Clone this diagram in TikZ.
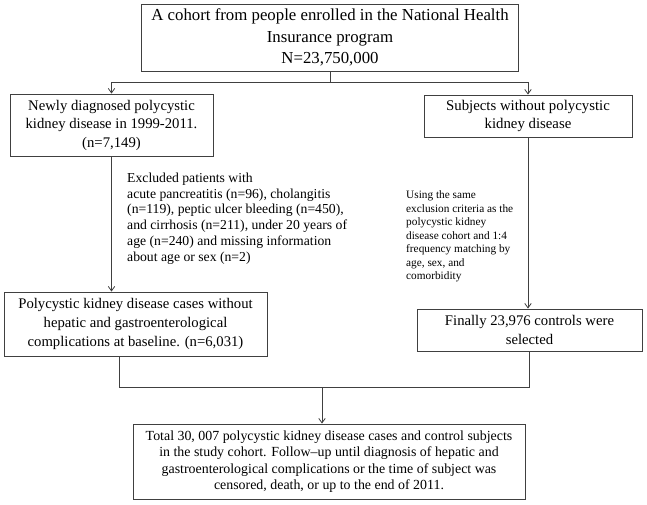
\documentclass[tikz,border=0pt]{standalone}
\usepackage{fontspec}
\setmainfont{Liberation Serif}
\usetikzlibrary{arrows.meta}
\definecolor{linegray}{RGB}{64,64,64}
\begin{document}
\begin{tikzpicture}[x=1pt,y=-1pt,
  box/.style={draw=linegray, line width=0.9pt, align=center, inner sep=0pt, text=black},
  conn/.style={draw=linegray, line width=0.9pt},
  arr/.style={conn, -{Straight Barb[length=4.5pt,width=6.5pt,line width=0.8pt]}},
  note/.style={align=left, inner sep=0pt, anchor=north west, text=black},
]
\useasboundingbox (0,0) rectangle (647,504);
\node[box, minimum width=377pt, minimum height=67pt, font=\fontsize{16.8}{21.2}\selectfont] (top) at (330,37.5)
  {A cohort from people enrolled in the National Health\\Insurance program\\N=23,750,000};
\node[box, minimum width=203pt, minimum height=62pt, font=\fontsize{14.7}{18.5}\selectfont] (diag) at (111.5,125)
  {Newly diagnosed polycystic\\kidney disease in 1999-2011.\\(n=7,149)};
\node[box, minimum width=208pt, minimum height=42pt, font=\fontsize{14.8}{18}\selectfont] (subj) at (528,116)
  {Subjects without polycystic\\kidney disease};
\node[box, minimum width=263pt, minimum height=64pt, font=\fontsize{14.7}{19}\selectfont] (cases) at (135.5,324)
  {Polycystic kidney disease cases without\\hepatic and gastroenterological\\complications at baseline. (n=6,031)};
\node[box, minimum width=225pt, minimum height=42pt, font=\fontsize{14.7}{19.5}\selectfont] (ctrl) at (529.5,330)
  {Finally 23,976 controls were\\selected};
\node[box, minimum width=392pt, minimum height=75pt, font=\fontsize{13.9}{16.3}\selectfont] (total) at (329,461.5)
  {Total 30, 007 polycystic kidney disease cases and control subjects\\in the study cohort. Follow--up until diagnosis of hepatic and\\gastroenterological complications or the time of subject was\\censored, death, or up to the end of 2011.};
\node[note, font=\fontsize{13.7}{15.8}\selectfont] (excl) at (127,172.5)
  {Excluded patients with\\acute pancreatitis (n=96), cholangitis\\(n=119), peptic ulcer bleeding (n=450),\\and cirrhosis (n=211), under 20 years of\\age (n=240) and missing information\\about age or sex (n=2)};
\node[note, font=\fontsize{11.3}{13.5}\selectfont] (same) at (406,190.5)
  {Using the same\\exclusion criteria as the\\polycystic kidney\\disease cohort and 1:4\\frequency matching by\\age, sex, and\\comorbidity};
\coordinate (j1) at (330,82);
\draw[conn] (top.south) -- (j1);
\draw[arr] (j1) -| (diag.north);
\draw[arr] (j1) -| (subj.north);
\draw[arr] (diag.south) -- (diag.south |- cases.north);
\draw[arr] (subj.south) -- (subj.south |- ctrl.north);
\coordinate (l2) at (119,387);
\coordinate (j2) at (322,387);
\draw[conn] (l2 |- cases.south) -- (l2) -- (ctrl.south |- l2) -- (ctrl.south);
\draw[arr] (j2) -- (j2 |- total.north);
\end{tikzpicture}
\end{document}
